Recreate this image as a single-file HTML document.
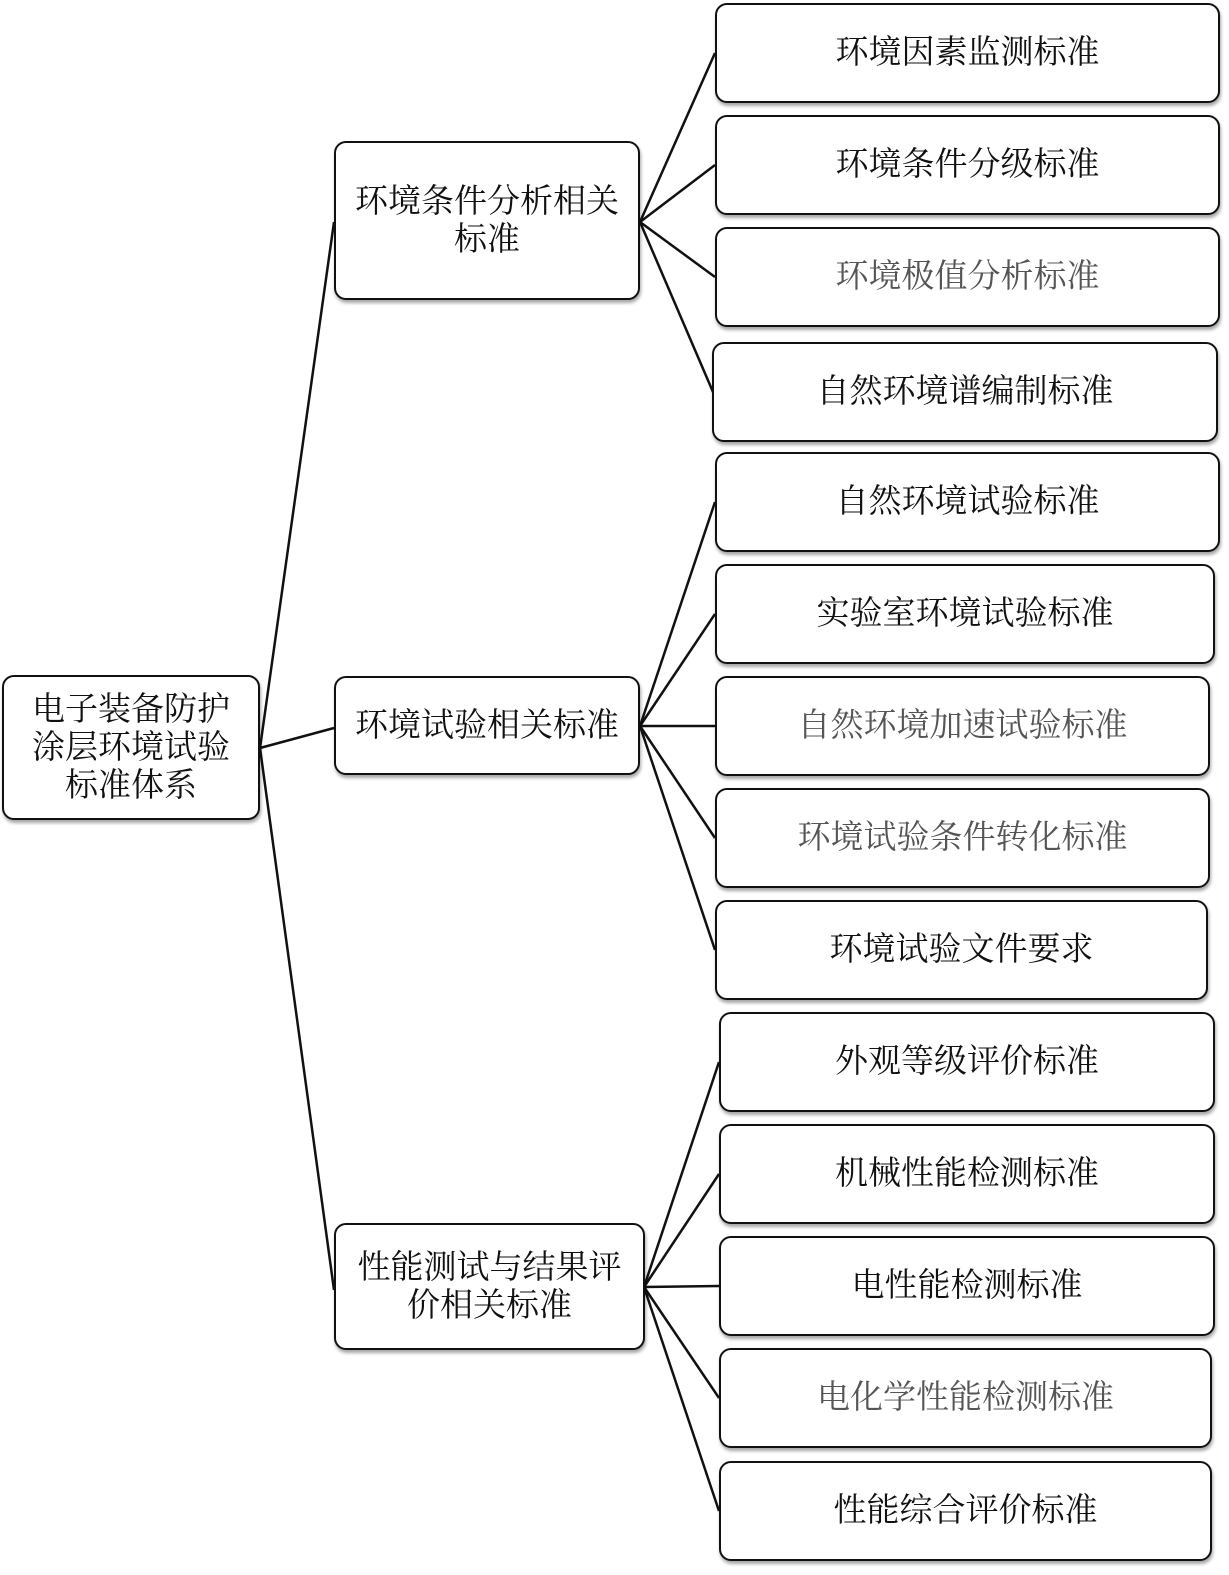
<!DOCTYPE html>
<html><head><meta charset="utf-8"><style>
body{margin:0;width:1229px;height:1575px;background:#fff;position:relative;overflow:hidden;font-family:"Liberation Serif","Noto Serif CJK SC","Noto Sans CJK SC",serif;}
.b{position:absolute;box-sizing:border-box;border:2.5px solid #111;border-radius:12px;background:#fff;box-shadow:1px 3px 3px rgba(0,0,0,.35);display:flex;align-items:center;justify-content:center;text-align:center;font-size:33px;line-height:38px;color:#111;}
.g{color:#555;}
svg{position:absolute;left:0;top:0;}
</style></head><body>
<svg width="1229" height="1575"><g stroke="#111" stroke-width="2.5" fill="none">
<line x1="260" y1="748" x2="334" y2="222"/>
<line x1="260" y1="748" x2="334" y2="728"/>
<line x1="260" y1="748" x2="334" y2="1290"/>
<line x1="640" y1="222" x2="715" y2="53"/>
<line x1="640" y1="222" x2="715" y2="165"/>
<line x1="640" y1="222" x2="715" y2="277"/>
<line x1="640" y1="222" x2="713" y2="392"/>
<line x1="640" y1="726" x2="715" y2="502"/>
<line x1="640" y1="726" x2="715" y2="614"/>
<line x1="640" y1="726" x2="715" y2="726"/>
<line x1="640" y1="726" x2="715" y2="838"/>
<line x1="640" y1="726" x2="715" y2="950"/>
<line x1="644" y1="1287" x2="719" y2="1062"/>
<line x1="644" y1="1287" x2="719" y2="1174"/>
<line x1="644" y1="1287" x2="719" y2="1286"/>
<line x1="644" y1="1287" x2="719" y2="1398"/>
<line x1="644" y1="1287" x2="719" y2="1511"/>
</g></svg>
<div class="b" style="left:2px;top:675px;width:258px;height:145px;">电子装备防护<br>涂层环境试验<br>标准体系</div>
<div class="b" style="left:334px;top:141px;width:306px;height:159px;">环境条件分析相关<br>标准</div>
<div class="b" style="left:334px;top:676px;width:306px;height:99px;">环境试验相关标准</div>
<div class="b" style="left:334px;top:1223px;width:311px;height:127px;">性能测试与结果评<br>价相关标准</div>
<div class="b" style="left:715px;top:3px;width:505px;height:100px;">环境因素监测标准</div>
<div class="b" style="left:715px;top:115px;width:505px;height:100px;">环境条件分级标准</div>
<div class="b g" style="left:715px;top:227px;width:505px;height:100px;">环境极值分析标准</div>
<div class="b" style="left:712px;top:342px;width:506px;height:100px;">自然环境谱编制标准</div>
<div class="b" style="left:715px;top:452px;width:505px;height:100px;">自然环境试验标准</div>
<div class="b" style="left:715px;top:564px;width:500px;height:100px;">实验室环境试验标准</div>
<div class="b g" style="left:715px;top:676px;width:495px;height:100px;">自然环境加速试验标准</div>
<div class="b g" style="left:715px;top:788px;width:495px;height:100px;">环境试验条件转化标准</div>
<div class="b" style="left:715px;top:900px;width:493px;height:100px;">环境试验文件要求</div>
<div class="b" style="left:719px;top:1012px;width:496px;height:100px;">外观等级评价标准</div>
<div class="b" style="left:719px;top:1124px;width:496px;height:100px;">机械性能检测标准</div>
<div class="b" style="left:719px;top:1236px;width:496px;height:100px;">电性能检测标准</div>
<div class="b g" style="left:719px;top:1348px;width:493px;height:100px;">电化学性能检测标准</div>
<div class="b" style="left:719px;top:1461px;width:493px;height:100px;">性能综合评价标准</div>
</body></html>
